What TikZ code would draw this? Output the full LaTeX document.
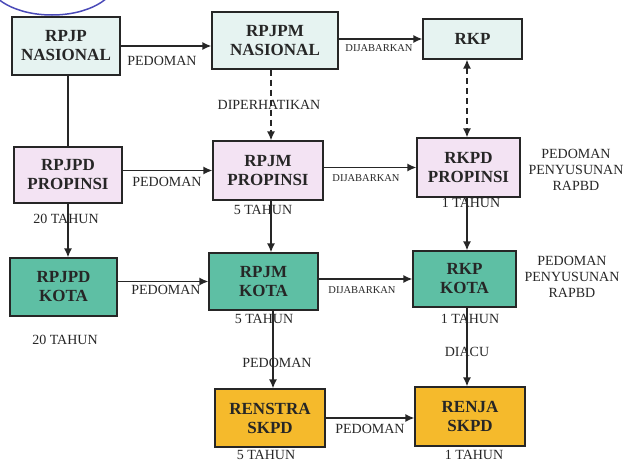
\documentclass[tikz,border=0pt]{standalone}
\usepackage{fontspec}
\setmainfont{Liberation Serif}
\usetikzlibrary{arrows.meta}

\definecolor{nasfill}{HTML}{E6F3F1}
\definecolor{provfill}{HTML}{F3E3F3}
\definecolor{kotafill}{HTML}{5EBFA4}
\definecolor{skpdfill}{HTML}{F5BA2C}
\definecolor{ink}{HTML}{262626}
\definecolor{ovalblue}{HTML}{4A4AB8}

\begin{document}
\begin{tikzpicture}[x=1pt,y=-1pt,
  plan/.style={draw=ink, line width=1.1pt, inner sep=0pt, align=center,
    text=ink, font=\fontsize{17}{19}\selectfont\bfseries},
  lbl/.style={inner sep=0pt, text=ink, align=center,
    font=\fontsize{14}{16}\selectfont},
  tiny/.style={inner sep=0pt, text=ink, font=\fontsize{10.5}{12}\selectfont},
  conn/.style={draw=ink, line width=1.6pt},
  tip/.tip={Latex[length=9pt,width=8pt]},
  arr/.style={conn, -tip},
  dsh/.style={conn, dash pattern=on 6pt off 4pt}]
\useasboundingbox (0,0) rectangle (633,463);

% circled marker in the corner
\begin{scope}
  \clip (0,0) rectangle (633,463);
  \draw[ovalblue, line width=1.5pt] (52,-20) ellipse [x radius=64pt, y radius=35pt];
\end{scope}

% national level
\node[plan, fill=nasfill, minimum width=108pt, minimum height=58pt] (rpjp) at (66,46) {RPJP\\NASIONAL};
\node[plan, fill=nasfill, minimum width=126pt, minimum height=57pt] (rpjpm) at (275,40.5) {RPJPM\\NASIONAL};
\node[plan, fill=nasfill, minimum width=99pt, minimum height=40pt] (rkp) at (472.5,39) {RKP};

% province level
\node[plan, fill=provfill, minimum width=108pt, minimum height=56pt] (rpjpdp) at (68,175) {RPJPD\\PROPINSI};
\node[plan, fill=provfill, minimum width=110pt, minimum height=59pt] (rpjmp) at (268,170.5) {RPJM\\PROPINSI};
\node[plan, fill=provfill, minimum width=103pt, minimum height=59pt] (rkpdp) at (468.5,167.5) {RKPD\\PROPINSI};

% city level
\node[plan, fill=kotafill, minimum width=107pt, minimum height=58pt] (rpjpdk) at (63.5,287) {RPJPD\\KOTA};
\node[plan, fill=kotafill, minimum width=109pt, minimum height=57pt] (rpjmk) at (263.5,281.5) {RPJM\\KOTA};
\node[plan, fill=kotafill, minimum width=103pt, minimum height=56pt] (rkpk) at (464.5,279) {RKP\\KOTA};

% SKPD level
\node[plan, fill=skpdfill, minimum width=110pt, minimum height=58pt] (renstra) at (270,418) {RENSTRA\\SKPD};
\node[plan, fill=skpdfill, minimum width=110pt, minimum height=59pt] (renja) at (470,416.5) {RENJA\\SKPD};

% horizontal links
\draw[arr] (rpjp.east) -- (rpjp.east -| rpjpm.west);
\draw[arr] (rkp.west -| rpjpm.east) -- (rkp.west);
\draw[arr] (rpjmp.west -| rpjpdp.east) -- (rpjmp.west);
\draw[arr] (rkpdp.west -| rpjmp.east) -- (rkpdp.west);
\draw[arr] (rpjmk.west -| rpjpdk.east) -- (rpjmk.west);
\draw[arr] (rkpk.west -| rpjmk.east) -- (rkpk.west);
\draw[arr] (renstra.east) -- (renstra.east -| renja.west);

% vertical links
\coordinate (cx1) at (68,0);
\coordinate (cx2) at (271,0);
\coordinate (cx3) at (273,0);
\coordinate (cx4) at (467,0);
\draw[conn] (cx1 |- rpjp.south) -- (cx1 |- rpjpdp.north);
\draw[arr] (cx1 |- rpjpdp.south) -- (cx1 |- rpjpdk.north);
\draw[dsh, -tip] (cx2 |- rpjpm.south) -- (cx2 |- rpjmp.north);
\draw[dsh, tip-tip] (cx4 |- rkp.south) -- (cx4 |- rkpdp.north);
\draw[arr] (cx2 |- rpjmp.south) -- (cx2 |- rpjmk.north);
\draw[arr] (cx4 |- rkpdp.south) -- (cx4 |- rkpk.north);
\draw[arr] (cx3 |- rpjmk.south) -- (cx3 |- renstra.north);
\draw[arr] (cx4 |- rkpk.south) -- (cx4 |- renja.north);

% link labels
\node[lbl] (l1) at (162,61) {PEDOMAN};
\node[tiny] (l2) at (379,48) {DIJABARKAN};
\node[lbl] (l3) at (269,105) {DIPERHATIKAN};
\node[lbl] (l4) at (167,182) {PEDOMAN};
\node[tiny] (l5) at (366,178) {DIJABARKAN};
\node[lbl] (l6) at (166,290) {PEDOMAN};
\node[tiny] (l7) at (362,290) {DIJABARKAN};
\node[lbl] (l8) at (277,363) {PEDOMAN};
\node[lbl] (l9) at (467,352) {DIACU};
\node[lbl] (l10) at (370,429) {PEDOMAN};

% durations
\node[lbl] (t1) at (66,219) {20 TAHUN};
\node[lbl] (t2) at (263,210) {5 TAHUN};
\node[lbl] (t3) at (471,203) {1 TAHUN};
\node[lbl] (t4) at (65,340) {20 TAHUN};
\node[lbl] (t5) at (264,319) {5 TAHUN};
\node[lbl] (t6) at (470,319) {1 TAHUN};
\node[lbl] (t7) at (266,455) {5 TAHUN};
\node[lbl] (t8) at (474,455) {1 TAHUN};

% notes beside the RKP boxes
\node[lbl] (n1) at (576,170) {PEDOMAN\\PENYUSUNAN\\RAPBD};
\node[lbl] (n2) at (572,277) {PEDOMAN\\PENYUSUNAN\\RAPBD};
\end{tikzpicture}
\end{document}
